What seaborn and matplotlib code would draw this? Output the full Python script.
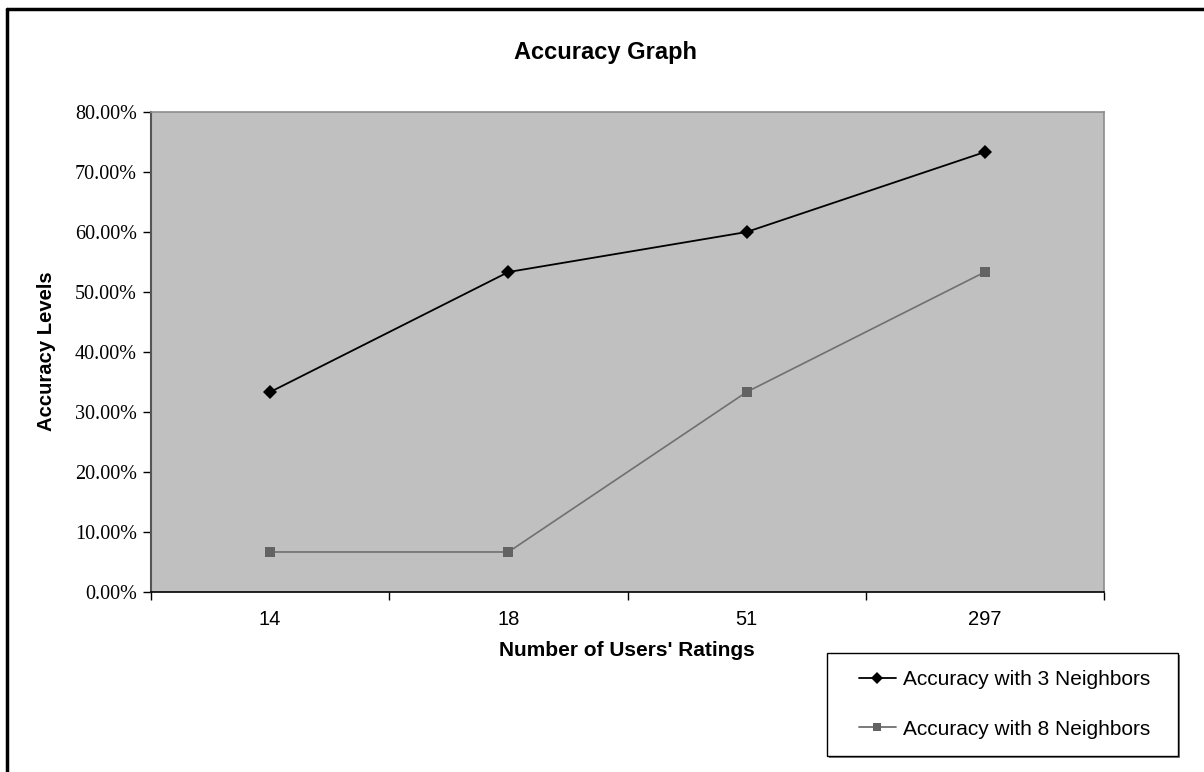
import matplotlib.pyplot as plt
import matplotlib.patches as mpatches
import matplotlib.lines as mlines
import pandas as pd
import seaborn as sns
from matplotlib.ticker import FuncFormatter, FixedLocator

# data
ratings = ["14", "18", "51", "297"]
acc_3 = [33.33, 53.33, 60.00, 73.33]
acc_8 = [6.67, 6.67, 33.33, 53.33]
series_names = ["Accuracy with 3 Neighbors", "Accuracy with 8 Neighbors"]
y_ticks = [0, 10, 20, 30, 40, 50, 60, 70, 80]

df = pd.DataFrame({
    "ratings": ratings * 2,
    "accuracy": acc_3 + acc_8,
    "series": [series_names[0]] * 4 + [series_names[1]] * 4,
})

sns.set_style("white")
plt.rcParams["font.family"] = ["Liberation Sans", "DejaVu Sans"]
plt.rcParams["text.color"] = "black"
plt.rcParams["xtick.color"] = "black"
plt.rcParams["ytick.color"] = "black"

fig = plt.figure(figsize=(12.04, 7.72), dpi=100)
W, H = 1204, 772
ax = fig.add_axes([151 / W, (H - 592) / H, (1104 - 151) / W, (592 - 112) / H])
ax.set_facecolor("#c0c0c0")

palette = {series_names[0]: "#000000", series_names[1]: "#707070"}
markers = {series_names[0]: "D", series_names[1]: "s"}
sizes = {series_names[0]: 7, series_names[1]: 6.5}
sns.lineplot(data=df, x="ratings", y="accuracy", hue="series", style="series",
             palette=palette, markers=markers, dashes=False, markersize=7,
             linewidth=1.3, markeredgewidth=0, ax=ax, legend=False, sort=False)
for line, name in zip(ax.lines, series_names):
    line.set_markersize(sizes[name])
    if name == series_names[1]:
        line.set_linewidth(1.2)
        line.set_markerfacecolor("#636363")

ax.set_xlim(-0.5, len(ratings) - 0.5)
ax.set_ylim(0, 80)
ax.set_yticks(y_ticks)
ax.yaxis.set_major_formatter(FuncFormatter(lambda v, p: f"{v:.2f}%"))
for lab in ax.get_yticklabels():
    lab.set_fontfamily("Liberation Serif")
    lab.set_fontsize(14.5)
ax.tick_params(axis="y", direction="out", length=6, width=1, color="#000000",
               pad=4, left=True, labelcolor="black")

ax.set_xticks(range(len(ratings)))
ax.set_xticklabels(ratings, fontsize=14.5)
ax.xaxis.set_minor_locator(FixedLocator([i - 0.5 for i in range(len(ratings) + 1)]))
ax.tick_params(axis="x", which="major", length=0, pad=13, labelcolor="black")
ax.tick_params(axis="x", which="minor", direction="out", length=6, width=1,
               color="#000000", bottom=True)

ax.set_xlabel("")
ax.set_ylabel("")
for side in ["top", "right"]:
    ax.spines[side].set_color("#8c8c8c")
    ax.spines[side].set_linewidth(1.2)
ax.spines["left"].set_color("#555555")
ax.spines["left"].set_linewidth(1.5)
ax.spines["bottom"].set_color("#000000")
ax.spines["bottom"].set_linewidth(1.2)

fig.text(606 / W, 1 - 52 / H, "Accuracy Graph", ha="center", va="center",
         fontsize=17, fontweight="bold")
fig.text(627 / W, 1 - 651 / H, "Number of Users' Ratings", ha="center",
         va="center", fontsize=15, fontweight="bold")
fig.text(47 / W, 1 - 351 / H, "Accuracy Levels", ha="center", va="center",
         rotation=90, fontsize=14.6, fontweight="bold")

# outer chart border
fig.add_artist(mlines.Line2D([7 / W, 7 / W], [0, 1 - 9 / H], color="black",
                             linewidth=2.5, transform=fig.transFigure))
fig.add_artist(mlines.Line2D([7 / W, 1], [1 - 9 / H, 1 - 9 / H], color="black",
                             linewidth=2.5, transform=fig.transFigure))

# legend box with shadow
lx0, lx1, ly0, ly1 = 827, 1178, 653, 756
fig.add_artist(mpatches.Rectangle((lx0 / W + 2 / W, 1 - (ly1 + 2) / H),
                                  (lx1 - lx0) / W, (ly1 - ly0) / H,
                                  transform=fig.transFigure, facecolor="#808080",
                                  edgecolor="none"))
fig.add_artist(mpatches.Rectangle((lx0 / W, 1 - ly1 / H), (lx1 - lx0) / W,
                                  (ly1 - ly0) / H, transform=fig.transFigure,
                                  facecolor="white", edgecolor="black",
                                  linewidth=1))
handles = []
for name in series_names:
    col = "#000000" if name == series_names[0] else "#707070"
    mfc = "#000000" if name == series_names[0] else "#636363"
    handles.append(mlines.Line2D([], [], color=col, marker=markers[name],
                                 markersize=sizes[name] - 0.5, markerfacecolor=mfc,
                                 markeredgewidth=0, linewidth=1.3,
                                 label=name))
leg = fig.legend(handles=handles, loc="center", fontsize=15,
                 bbox_to_anchor=(1004.5 / W, 1 - 704.5 / H),
                 frameon=False, handlelength=1.75, handletextpad=0.33,
                 labelspacing=1.45, borderpad=0)
for t in leg.get_texts():
    t.set_color("black")

fig.savefig("out.png", dpi=100)
